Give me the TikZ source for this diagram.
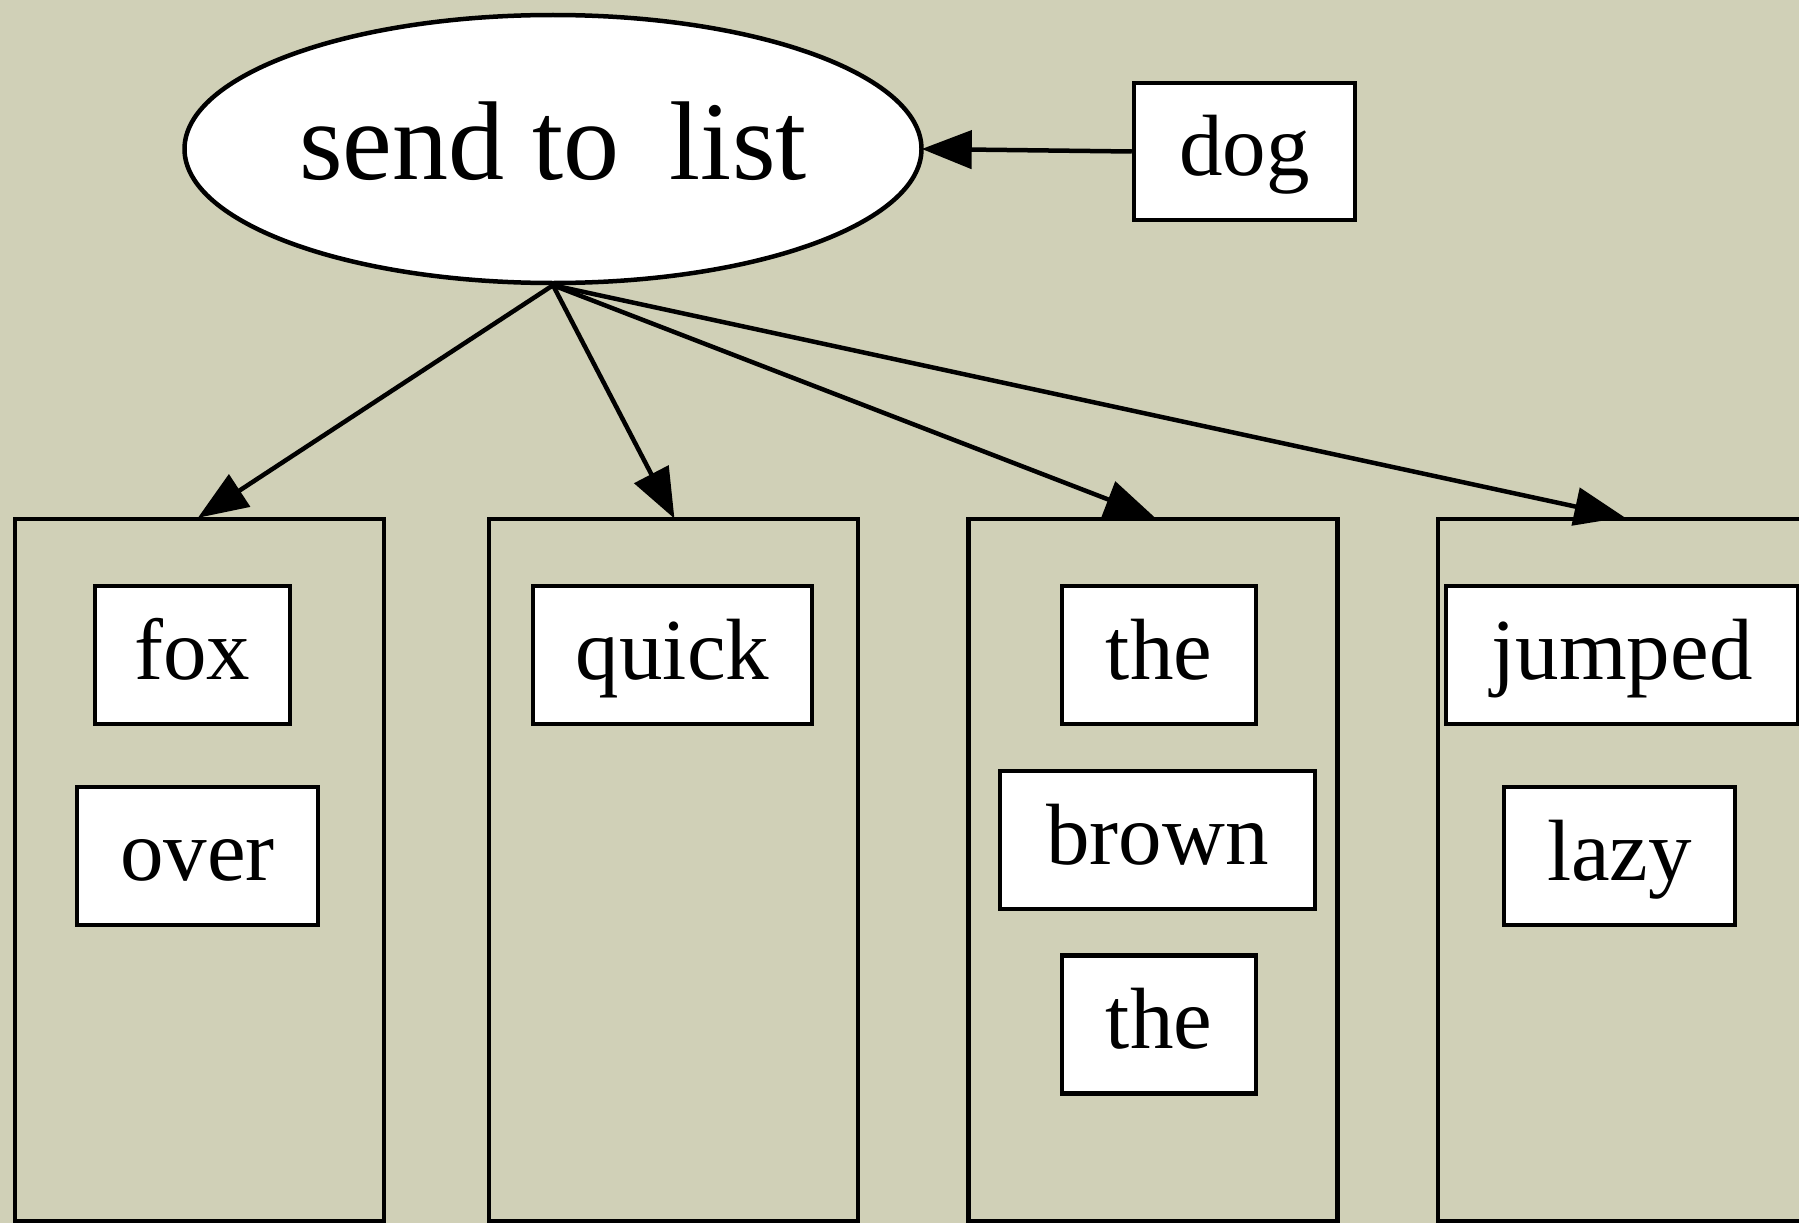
\documentclass[tikz,border=0pt]{standalone}
\usepackage{fontspec}
\setmainfont{Liberation Serif}
\usetikzlibrary{shapes.geometric,arrows.meta}
\definecolor{bgpaper}{RGB}{208,208,183}
\tikzset{
  word/.style={draw=black, fill=white, line width=4.5pt, rectangle, inner sep=0pt, font=\fontsize{87}{100}\selectfont, text height=61pt, text depth=13pt},
  column/.style={draw=black, line width=4.5pt, rectangle, inner sep=0pt, minimum width=369pt, minimum height=702pt},
  edge/.style={line width=4.5pt, -{Triangle[length=50pt,width=38pt]}, shorten >=-2pt}
}
\begin{document}
\begin{tikzpicture}[x=1pt,y=-1pt]
\useasboundingbox (0,0) rectangle (1799,1223);
\clip (0,0) rectangle (1799,1223);
\fill[bgpaper] (0,0) rectangle (1799,1223);
% top
\node[draw=black, fill=white, line width=4.5pt, ellipse, inner sep=0pt, minimum width=737pt, minimum height=268pt, font=\fontsize{112}{124}\selectfont, text height=78pt, text depth=17pt] (e) at (553,149) {send to\hspace{0.45em}list};
\node[word, minimum width=221pt, minimum height=137pt] (dog) at (1244.5,151.5) {dog};
% columns
\node[column] (c1) at (199.5,870) {};
\node[column] (c2) at (673.5,870) {};
\node[column] (c3) at (1153,870) {};
\node[column] (c4) at (1622.5,870) {};
% words
\node[word, minimum width=195pt, minimum height=138pt] (fox) at (192.5,655) {fox};
\node[word, minimum width=241pt, minimum height=138pt] (over) at (197.5,856) {over};
\node[word, minimum width=279pt, minimum height=138pt] (quick) at (672.5,655) {quick};
\node[word, minimum width=194pt, minimum height=138pt] (the1) at (1159,655) {the};
\node[word, minimum width=315pt, minimum height=138pt] (brown) at (1157.5,840) {brown};
\node[word, minimum width=194pt, minimum height=138pt] (the2) at (1159,1024.5) {the};
\node[word, minimum width=352pt, minimum height=138pt] (jumped) at (1622,655) {jumped};
\node[word, minimum width=231pt, minimum height=138pt] (lazy) at (1619.5,856) {lazy};
% edges
\draw[edge] (dog.west) -- (e.east);
\draw[edge] (e.south) -- (c1.north);
\draw[edge] (e.south) -- (c2.north);
\draw[edge] (e.south) -- (c3.north);
\draw[edge] (e.south) -- (c4.north);
\end{tikzpicture}
\end{document}
